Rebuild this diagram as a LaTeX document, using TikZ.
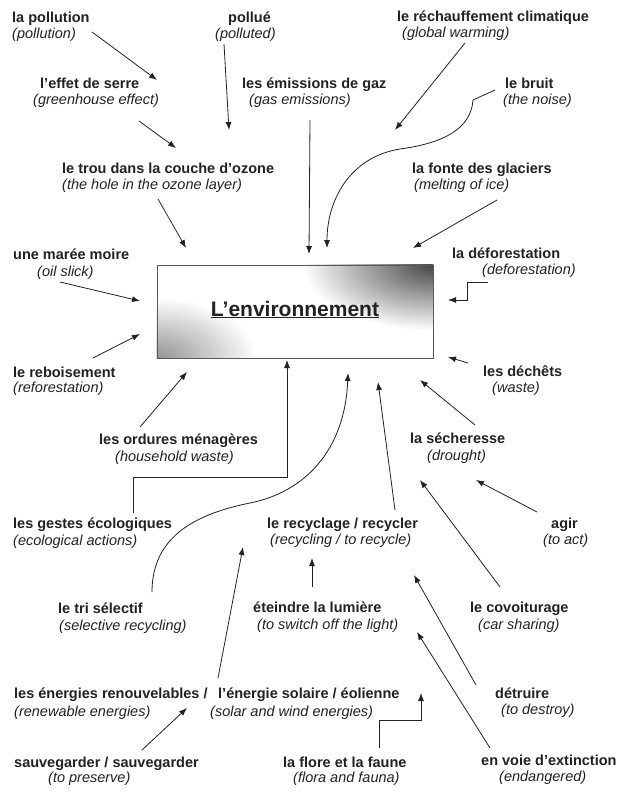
\documentclass[tikz,border=0pt]{standalone}
\usepackage{fontspec}
\setmainfont{Liberation Sans}
\usetikzlibrary{arrows.meta,fadings}
\definecolor{ink}{HTML}{222222}
\tikzfading[name=cornerfade, inner color=transparent!0, outer color=transparent!100]
\tikzset{
  fr/.style={anchor=base west, inner sep=0pt, font=\bfseries\fontsize{14.5}{17}\selectfont, text=ink},
  en/.style={anchor=base west, inner sep=0pt, font=\itshape\fontsize{14.5}{17}\selectfont, text=ink},
  arr/.style={draw=ink, line width=0.8pt, -{Latex[length=8pt,width=6pt]}},
  envbox/.style={draw=black!65, line width=0.8pt, minimum width=276pt, minimum height=93pt, inner sep=0pt},
}
\begin{document}
\begin{tikzpicture}[x=1pt,y=-1pt]
\fill[white] (0,0) rectangle (629,809);
\useasboundingbox (0,0) rectangle (629,809);

% central box
\node[envbox] (env) at (295,311.5) {};
\begin{scope}
  \clip (env.north west) rectangle (env.south east);
  \fill[black!72, path fading=cornerfade] (303,200) rectangle (563,330);
  \fill[black!42, path fading=cornerfade] (57,298) rectangle (257,418);
\end{scope}
\node[envbox] at (env.center) {};
\node[anchor=base, inner sep=0pt, font=\bfseries\fontsize{21}{24}\selectfont, text=ink] (title) at (295,316) {\underline{L’environnement}};

% labels
\node[fr] (pollFr) at (12,22) {la pollution};
\node[en] (pollEn) at (12,38) {(pollution)};
\node[fr] (polluFr) at (228,22) {pollué};
\node[en] (polluEn) at (215,38) {(polluted)};
\node[fr] (rechFr) at (397,21) {le réchauffement climatique};
\node[en] (rechEn) at (402,37) {(global warming)};
\node[fr] (effetFr) at (40,88) {l’effet de serre};
\node[en] (effetEn) at (33,104) {(greenhouse effect)};
\node[fr] (gazFr) at (242,88) {les émissions de gaz};
\node[en] (gazEn) at (249,104) {(gas emissions)};
\node[fr] (bruitFr) at (505,88) {le bruit};
\node[en] (bruitEn) at (503,104) {(the noise)};
\node[fr] (trouFr) at (62,173) {le trou dans la couche d’ozone};
\node[en] (trouEn) at (62,189) {(the hole in the ozone layer)};
\node[fr] (fonteFr) at (412,173) {la fonte des glaciers};
\node[en] (fonteEn) at (414,189) {(melting of ice)};
\node[fr] (mareeFr) at (13,259) {une marée moire};
\node[en] (mareeEn) at (37,276) {(oil slick)};
\node[fr] (defoFr) at (452,258) {la déforestation};
\node[en] (defoEn) at (482,274) {(deforestation)};
\node[fr] (reboisFr) at (13,377) {le reboisement};
\node[en] (reboisEn) at (13,392) {(reforestation)};
\node[fr] (dechFr) at (483,376) {les déchêts};
\node[en] (dechEn) at (492,392) {(waste)};
\node[fr] (ordFr) at (99,444) {les ordures ménagères};
\node[en] (ordEn) at (115,461) {(household waste)};
\node[fr] (secheFr) at (410,443) {la sécheresse};
\node[en] (secheEn) at (427,460) {(drought)};
\node[fr] (gestFr) at (13,528) {les gestes écologiques};
\node[en] (gestEn) at (13,545) {(ecological actions)};
\node[fr] (recFr) at (267,528) {le recyclage / recycler};
\node[en] (recEn) at (270,544) {(recycling / to recycle)};
\node[fr] (agirFr) at (551,528) {agir};
\node[en] (agirEn) at (543,544) {(to act)};
\node[fr] (triFr) at (58,613) {le tri sélectif};
\node[en] (triEn) at (59,630) {(selective recycling)};
\node[fr] (etFr) at (253,612) {éteindre la lumière};
\node[en] (etEn) at (257,629) {(to switch off the light)};
\node[fr] (covFr) at (470,612) {le covoiturage};
\node[en] (covEn) at (478,629) {(car sharing)};
\node[fr] (renFr) at (14,698) {les énergies renouvelables /};
\node[en] (renEn) at (14,716) {(renewable energies)};
\node[fr] (solFr) at (218,698) {l’énergie solaire / éolienne};
\node[en] (solEn) at (210,716) {(solar and wind energies)};
\node[fr] (detFr) at (495,698) {détruire};
\node[en] (detEn) at (501,714) {(to destroy)};
\node[fr] (sauvFr) at (14,767) {sauvegarder / sauvegarder};
\node[en] (sauvEn) at (48,782) {(to preserve)};
\node[fr] (floreFr) at (283,767) {la flore et la faune};
\node[en] (floreEn) at (293,782) {(flora and fauna)};
\node[fr] (extFr) at (481,765) {en voie d’extinction};
\node[en] (extEn) at (499,781) {(endangered)};

% connector end points
\coordinate (a1) at (92,32);   \coordinate (a2) at (157,80);
\coordinate (b1) at (224,44);  \coordinate (b2) at (229,130);
\coordinate (c1) at (139,121); \coordinate (c2) at (176,148);
\coordinate (d1) at (158,199); \coordinate (d2) at (186,248);
\coordinate (e1) at (310,120); \coordinate (e2) at (309,254);
\coordinate (f1) at (465,43);  \coordinate (f2) at (395,130);
\coordinate (g0) at (495,90);  \coordinate (g1) at (473,100); \coordinate (g2) at (400,149); \coordinate (g3) at (327,248);
\coordinate (h1) at (497,200); \coordinate (h2) at (413,248);
\coordinate (i1) at (488,282); \coordinate (i2) at (467,282); \coordinate (i3) at (467,300); \coordinate (i4) at (448,300);
\coordinate (j1) at (468,363); \coordinate (j2) at (448,357);
\coordinate (k1) at (475,425); \coordinate (k2) at (420,380);
\coordinate (l1) at (60,282);  \coordinate (l2) at (140,301);
\coordinate (m1) at (93,358);  \coordinate (m2) at (140,334);
\coordinate (n1) at (140,427); \coordinate (n2) at (187,372);
\coordinate (o1) at (133,513); \coordinate (o2) at (133,477); \coordinate (o3) at (287,477); \coordinate (o4) at (287,360);
\coordinate (p1) at (152,592); \coordinate (p2) at (250,503); \coordinate (p3) at (348,373);
\coordinate (q1) at (395,510); \coordinate (q2) at (378,382);
\coordinate (r1) at (500,587); \coordinate (r2) at (420,480);
\coordinate (s1) at (537,512); \coordinate (s2) at (476,480);
\coordinate (t1) at (312,587); \coordinate (t2) at (312,558);
\coordinate (u1) at (218,678); \coordinate (u2) at (243,547);
\coordinate (v1) at (142,750); \coordinate (v2) at (187,708);
\coordinate (w1) at (379,748); \coordinate (w2) at (379,720); \coordinate (w3) at (421,720); \coordinate (w4) at (421,693);
\coordinate (x1) at (476,685); \coordinate (x2) at (414,575);
\coordinate (y1) at (490,748); \coordinate (y2) at (417,632);

% connectors
\draw[arr] (a1) -- (a2);
\draw[arr] (b1) -- (b2);
\draw[arr] (c1) -- (c2);
\draw[arr] (d1) -- (d2);
\draw[arr] (e1) -- (e2);
\draw[arr] (f1) -- (f2);
\draw[arr] (g0) -- (g1) .. controls (471,128) and (445,143) .. (g2) .. controls (350,157) and (327,200) .. (g3);
\draw[arr] (h1) -- (h2);
\draw[arr] (i1) -- (i2) -- (i3) -- (i4);
\draw[arr] (j1) -- (j2);
\draw[arr] (k1) -- (k2);
\draw[arr] (l1) -- (l2);
\draw[arr] (m1) -- (m2);
\draw[arr] (n1) -- (n2);
\draw[arr] (o1) -- (o2) -- (o3) -- (o4);
\draw[arr] (p1) .. controls (152,540) and (190,515) .. (p2) .. controls (305,492) and (345,450) .. (p3);
\draw[arr] (q1) -- (q2);
\draw[arr] (r1) -- (r2);
\draw[arr] (s1) -- (s2);
\draw[arr] (t1) -- (t2);
\draw[arr] (u1) -- (u2);
\draw[arr] (v1) -- (v2);
\draw[arr] (w1) -- (w2) -- (w3) -- (w4);
\draw[arr] (x1) -- (x2);
\draw[arr] (y1) -- (y2);
\end{tikzpicture}
\end{document}
